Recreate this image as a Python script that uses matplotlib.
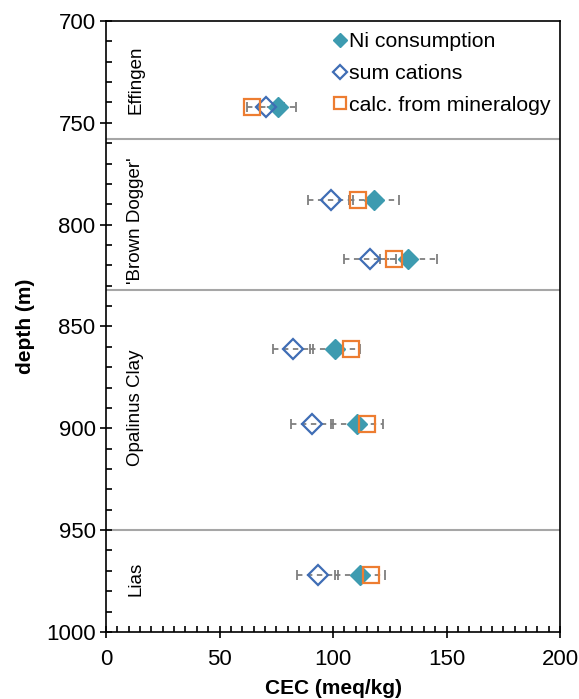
import matplotlib.pyplot as plt
from matplotlib.ticker import MultipleLocator

plt.rcParams['font.family'] = ['Liberation Sans', 'DejaVu Sans']

# depths of the samples (m)
depth = [742, 788, 817, 861, 898, 972]

# CEC values (meq/kg)
ni_cons = [75.9, 118.0, 133.2, 100.9, 110.4, 111.9]
ni_err = [8.0, 11.0, 12.5, 11.0, 11.5, 11.0]
sum_cat = [70.3, 98.9, 116.3, 82.5, 90.6, 93.2]
sum_err = [8.0, 9.8, 11.5, 8.8, 9.2, 9.0]
calc_min = [64.3, 111.2, 127.0, 107.8, 114.8, 116.6]

# formation boundaries and labels
boundaries = [758, 832, 950]
formations = ['Effingen', "'Brown Dogger'", 'Opalinus Clay', 'Lias']
formation_y = [729, 798, 890, 974]

teal = '#3D9BB0'
blue = '#3F6DB5'
orange = '#ED7D31'
grey = '#7F7F7F'

fig = plt.figure(figsize=(5.79, 6.99), dpi=100)
ax = fig.add_axes([0.1831, 0.0959, 0.7841, 0.8741])

for b in boundaries:
    ax.axhline(b, color='#A6A6A6', lw=1.5, zorder=1)

for name, y in zip(formations, formation_y):
    ax.text(13, y, name, rotation=90, ha='center', va='center', fontsize=13.5)

# dashed error bars
for vals, errs in [(ni_cons, ni_err), (sum_cat, sum_err)]:
    eb = ax.errorbar(vals, depth, xerr=errs, fmt='none', ecolor=grey,
                     elinewidth=1.3, capsize=3.5, capthick=1.3, zorder=2)
    eb[2][0].set_linestyle((0, (3, 2.5)))

ax.plot(ni_cons, depth, 'D', ms=10, color=teal, mec=teal, ls='none',
        label='Ni consumption', zorder=3)
ax.plot(sum_cat, depth, 'D', ms=10, mfc='none', mec=blue, mew=1.6, ls='none',
        label='sum cations', zorder=4)
ax.plot(calc_min, depth, 's', ms=11.5, mfc='none', mec=orange, mew=1.6,
        ls='none', label='calc. from mineralogy', zorder=5)

ax.set_xlim(0, 200)
ax.set_ylim(1000, 700)
ax.xaxis.set_major_locator(MultipleLocator(50))
ax.xaxis.set_minor_locator(MultipleLocator(5))
ax.yaxis.set_major_locator(MultipleLocator(50))
ax.yaxis.set_minor_locator(MultipleLocator(10))
ax.tick_params(which='major', direction='inout', length=8, width=1.2,
               labelsize=16, top=False, right=False)
ax.tick_params(axis='x', which='major', pad=8)
ax.tick_params(which='minor', direction='in', length=4, width=1.2,
               top=False, right=False)
for s in ax.spines.values():
    s.set_linewidth(1.2)

ax.set_xlabel('CEC (meq/kg)', fontsize=15, fontweight='bold', labelpad=7)
ax.set_ylabel('depth (m)', fontsize=15, fontweight='bold', labelpad=8)

leg = ax.legend(loc='upper right', bbox_to_anchor=(1.0, 0.997), frameon=False,
                fontsize=15.3, handlelength=0.6, handletextpad=0.1,
                labelspacing=0.6, borderaxespad=0.05, markerscale=0.7)

fig.savefig('out.png', dpi=100)
